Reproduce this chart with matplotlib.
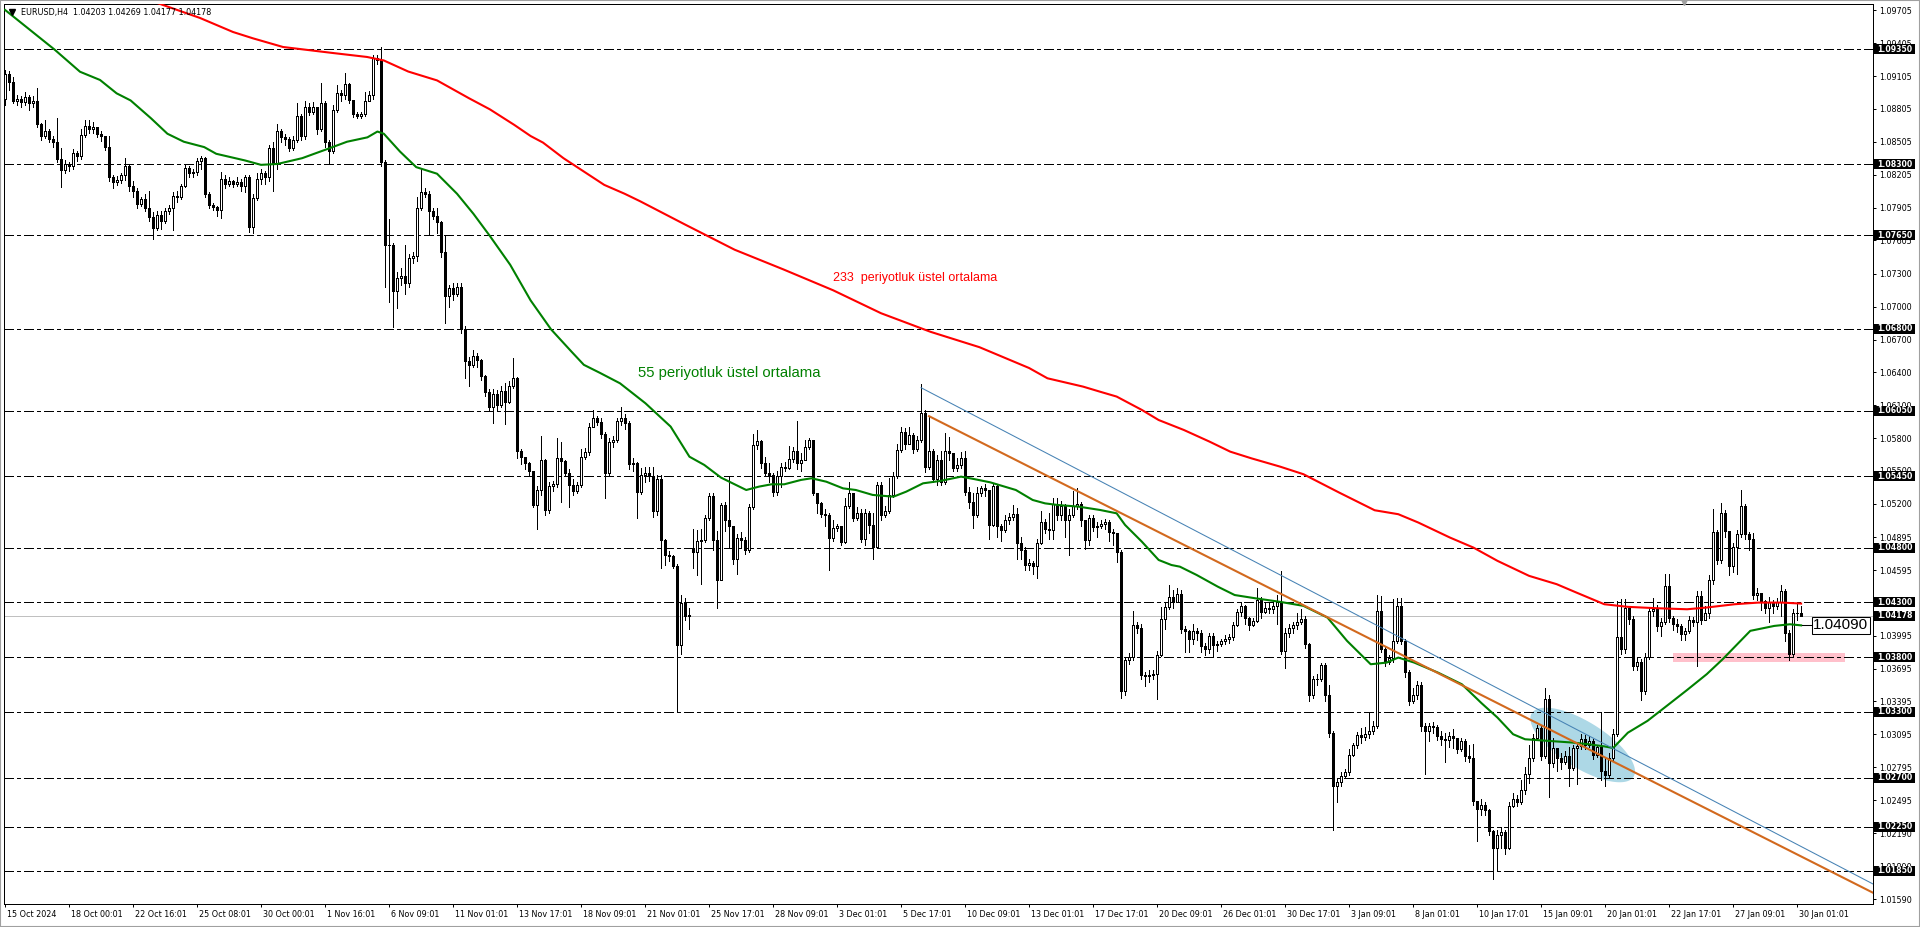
import numpy as np
import matplotlib
matplotlib.use("Agg")
import matplotlib.pyplot as plt
from matplotlib.patches import Rectangle
from matplotlib.transforms import blended_transform_factory, ScaledTranslation

# EURUSD H4, 15 Oct 2024 08:00 .. 30 Jan 2025 04:00 (450 bars)
# all prices below are in pips above 1.0000 (912 -> 1.0912)
first_open = 890
gap_opens = {172: 480}   # weekend gap (25 Nov)

closes = [
    912, 905, 888, 890, 887, 891, 886, 888, 867, 856,
    860, 853, 850, 835, 825, 830, 828, 840, 838, 857,
    865, 862, 864, 858, 856, 846, 818, 814, 816, 820,
    828, 810, 806, 794, 798, 790, 782, 772, 784, 778,
    787, 790, 801, 800, 810, 827, 822, 823, 833, 836,
    803, 793, 791, 788, 817, 812, 815, 812, 814, 810,
    818, 773, 799, 817, 822, 818, 845, 830, 860, 855,
    853, 845, 852, 874, 856, 882, 878, 882, 862, 886,
    850, 842, 880, 895, 893, 903, 889, 876, 874, 876,
    888, 893, 927, 925, 832, 756, 756, 714, 726, 728,
    722, 744, 746, 790, 805, 803, 787, 783, 777, 750,
    710, 717, 712, 718, 680, 650, 647, 655, 651, 637,
    622, 608, 620, 610, 623, 613, 628, 635, 568, 563,
    557, 550, 519, 533, 560, 514, 536, 538, 562, 559,
    548, 537, 532, 537, 563, 567, 590, 598, 595, 584,
    548, 576, 578, 596, 598, 594, 556, 557, 531, 546,
    548, 545, 513, 543, 487, 473, 472, 463, 391, 429,
    418, 418, 476, 486, 487, 507, 527, 487, 450, 519,
    505, 500, 470, 489, 487, 478, 517, 574, 577, 557,
    548, 546, 531, 545, 554, 553, 561, 568, 557, 560,
    572, 578, 530, 521, 511, 510, 489, 498, 500, 485,
    518, 530, 507, 512, 488, 512, 501, 481, 537, 510,
    513, 528, 545, 569, 586, 575, 583, 570, 578, 603,
    554, 568, 543, 560, 540, 568, 566, 553, 555, 562,
    531, 522, 510, 530, 534, 533, 501, 536, 500, 496,
    505, 508, 511, 484, 478, 464, 466, 463, 484, 503,
    497, 496, 520, 510, 518, 505, 510, 518, 520, 505,
    487, 507, 499, 500, 502, 503, 494, 493, 476, 349,
    377, 380, 409, 407, 364, 363, 364, 365, 382, 415,
    426, 435, 430, 438, 406, 404, 397, 404, 402, 390,
    387, 399, 391, 392, 395, 397, 398, 409, 421, 427,
    416, 409, 413, 432, 421, 425, 424, 427, 430, 386,
    402, 407, 409, 412, 415, 392, 345, 360, 360, 373,
    345, 311, 262, 266, 271, 275, 291, 300, 309, 307,
    310, 313, 317, 422, 387, 376, 379, 395, 427, 395,
    366, 340, 345, 355, 317, 313, 317, 316, 308, 305,
    304, 308, 306, 296, 303, 290, 288, 249, 241, 245,
    240, 221, 206, 218, 220, 206, 244, 250, 248, 259,
    273, 288, 306, 315, 290, 342, 283, 297, 288, 284,
    290, 279, 297, 299, 305, 300, 303, 291, 298, 276,
    272, 288, 310, 398, 387, 425, 415, 372, 376, 349,
    380, 422, 424, 408, 412, 445, 416, 410, 408, 401,
    404, 414, 412, 436, 414, 420, 450, 494, 469, 512,
    495, 463, 481, 492, 518, 492, 488, 437, 439, 431,
    425, 430, 427, 430, 440, 402, 383, 420, 420.3, 417.8,
]
highs = [
    916, 915, 910, 893, 892, 896, 893, 892, 900, 868,
    870, 862, 856, 872, 845, 834, 832, 844, 842, 862,
    870, 870, 869, 863, 860, 856, 856, 820, 819, 822,
    836, 830, 815, 808, 800, 803, 806, 786, 787, 787,
    790, 793, 805, 806, 812, 830, 828, 826, 836, 838,
    837, 805, 795, 792, 823, 820, 818, 816, 818, 817,
    820, 820, 803, 822, 826, 824, 848, 850, 867, 862,
    858, 855, 856, 886, 876, 888, 886, 887, 880, 904,
    888, 852, 884, 902, 898, 913, 904, 889, 878, 878,
    896, 897, 930, 930, 937, 834, 780, 758, 732, 735,
    756, 748, 750, 800, 826, 808, 806, 790, 790, 778,
    765, 720, 722, 722, 722, 682, 654, 660, 658, 652,
    638, 625, 625, 624, 628, 630, 632, 653, 636, 570,
    563, 558, 548, 536, 582, 561, 540, 541, 580, 576,
    560, 552, 543, 540, 570, 571, 594, 606, 600, 598,
    586, 580, 582, 598, 608, 602, 596, 562, 558, 553,
    554, 554, 554, 546, 546, 488, 477, 473, 465, 437,
    434, 425, 497, 496, 497, 510, 530, 530, 495, 521,
    522, 545, 500, 492, 494, 490, 520, 584, 587, 578,
    563, 557, 548, 550, 557, 558, 573, 572, 596, 566,
    578, 580, 576, 530, 522, 515, 512, 505, 502, 500,
    525, 540, 530, 517, 515, 515, 513, 512, 540, 540,
    518, 544, 549, 575, 590, 589, 590, 585, 582, 629,
    606, 600, 570, 565, 568, 585, 581, 566, 562, 567,
    568, 535, 530, 535, 536, 538, 533, 538, 537, 502,
    510, 512, 519, 516, 490, 481, 470, 468, 488, 513,
    506, 512, 525, 525, 523, 520, 515, 532, 534, 522,
    505, 510, 510, 503, 505, 506, 505, 497, 493, 478,
    380, 384, 422, 412, 410, 366, 368, 368, 386, 426,
    430, 446, 441, 443, 441, 408, 405, 410, 407, 405,
    393, 402, 402, 395, 397, 400, 401, 412, 424, 430,
    428, 417, 416, 443, 435, 430, 429, 430, 437, 459,
    407, 410, 412, 420, 424, 418, 393, 363, 365, 375,
    375, 355, 313, 270, 275, 278, 296, 302, 312, 315,
    316, 330, 322, 437, 436, 390, 382, 433, 434, 434,
    397, 368, 352, 358, 357, 320, 320, 321, 318, 313,
    311, 312, 314, 305, 306, 305, 300, 301, 249, 250,
    248, 241, 222, 222, 225, 222, 248, 256, 254, 268,
    280, 300, 310, 318, 318, 352, 345, 306, 297, 292,
    294, 298, 300, 302, 310, 309, 308, 305, 300, 330,
    289, 292, 314, 431, 433, 433, 427, 418, 380, 378,
    384, 426, 434, 428, 416, 456, 456, 418, 415, 410,
    407, 418, 417, 440, 440, 427, 455, 515, 496, 521,
    514, 495, 484, 496, 533, 520, 494, 493, 443, 438,
    432, 435, 432, 434, 446, 442, 405, 424, 429, 426.9,
]
lows = [
    884, 898, 886, 884, 882, 884, 880, 882, 864, 852,
    854, 850, 846, 832, 809, 822, 824, 826, 833, 835,
    855, 859, 859, 855, 851, 843, 815, 808, 811, 813,
    816, 806, 800, 790, 792, 787, 778, 762, 770, 771,
    776, 785, 770, 796, 798, 809, 818, 818, 820, 826,
    800, 790, 788, 783, 781, 808, 810, 809, 810, 806,
    805, 768, 767, 797, 812, 812, 815, 806, 826, 850,
    848, 842, 843, 850, 852, 853, 875, 876, 858, 860,
    846, 830, 840, 878, 888, 890, 886, 873, 872, 872,
    874, 888, 890, 922, 828, 718, 704, 681, 699, 720,
    712, 718, 740, 742, 788, 800, 765, 780, 767, 745,
    685, 700, 706, 710, 676, 635, 628, 645, 645, 633,
    618, 605, 594, 606, 608, 593, 612, 626, 562, 556,
    552, 546, 517, 497, 528, 510, 512, 532, 535, 522,
    545, 517, 528, 530, 535, 561, 565, 590, 592, 580,
    525, 546, 572, 576, 592, 588, 552, 550, 507, 529,
    540, 541, 508, 510, 461, 464, 468, 461, 330, 383,
    414, 406, 461, 455, 447, 485, 505, 478, 425, 452,
    495, 480, 465, 456, 480, 474, 476, 515, 570, 553,
    545, 540, 527, 528, 535, 550, 552, 558, 552, 550,
    560, 570, 528, 512, 508, 500, 460, 486, 495, 482,
    484, 516, 504, 505, 485, 482, 493, 470, 480, 505,
    508, 512, 526, 544, 567, 570, 575, 566, 568, 576,
    549, 552, 540, 537, 537, 538, 560, 550, 550, 553,
    528, 516, 498, 508, 527, 527, 488, 500, 490, 486,
    494, 502, 505, 470, 470, 460, 460, 456, 452, 483,
    493, 488, 488, 505, 505, 490, 473, 508, 515, 500,
    479, 482, 495, 490, 498, 497, 486, 482, 467, 343,
    345, 374, 377, 402, 360, 354, 357, 360, 342, 381,
    406, 424, 425, 430, 402, 385, 385, 392, 396, 385,
    382, 384, 380, 386, 390, 392, 393, 396, 408, 418,
    410, 405, 408, 412, 416, 420, 420, 420, 410, 383,
    370, 398, 402, 406, 410, 388, 340, 343, 355, 358,
    340, 307, 222, 248, 262, 270, 272, 290, 297, 302,
    304, 306, 310, 315, 385, 372, 374, 376, 393, 392,
    362, 336, 338, 342, 313, 273, 303, 311, 304, 300,
    284, 298, 297, 292, 294, 285, 284, 245, 212, 236,
    236, 218, 177, 185, 206, 200, 205, 243, 244, 246,
    255, 265, 285, 304, 286, 288, 252, 280, 276, 278,
    282, 262, 277, 264, 296, 296, 298, 287, 289, 268,
    262, 270, 285, 308, 383, 384, 410, 368, 368, 341,
    346, 378, 418, 404, 399, 410, 412, 405, 403, 396,
    396, 402, 408, 372, 410, 414, 416, 447, 465, 466,
    490, 455, 458, 456, 490, 488, 478, 433, 432, 423,
    420, 412, 420, 424, 418, 395, 377, 380, 414, 417.7,
]

# moving averages (bar index, pips)
ema233_bars = [35, 38.3, 48.75, 57, 62, 69.5, 82, 90.5, 94.7, 100.8,
               108, 116, 121.2, 127.3, 131.4, 134.5, 139.6, 144.7, 149.8, 154.9,
               158.8, 170, 182.4, 194.6, 207, 219, 231.4, 243.6, 256, 260.6,
               269.5, 273.7, 277.9, 284.2, 288.4, 294.7, 301.1, 306.3, 311.6, 318.7,
               324.6, 333.5, 342.4, 348.3, 353.3, 361.2, 367.1, 373.1, 381, 387.9,
               392.8, 399.8, 405.7, 412.6, 420.5, 425.4, 432.4, 438.3, 444.2, 449]
ema233_vals = [981, 977, 963.6, 950.8, 945, 937.1, 931.6, 928, 924.8, 914.7,
               906.6, 890.3, 880.2, 866, 855.8, 849.8, 835.6, 823.4, 811.2, 803.1,
               796.2, 775, 752, 734, 715, 694, 677, 663, 644, 634.6,
               627, 622.4, 617.9, 605.7, 596.5, 587.4, 576.8, 567.6, 561.5, 554,
               547, 530.3, 514.1, 510.5, 502.9, 489.2, 480, 467.9, 454.2, 446.6,
               439, 428.3, 425.9, 424.7, 423.7, 425.3, 428.3, 429.8, 429.8, 428.9]
ema55_bars = [0, 12.5, 18.75, 23.75, 27.9, 31.4, 36.5, 40.6, 44.7, 49.8,
              52.8, 60, 64, 68.1, 74.3, 77.3, 80.4, 85.5, 90.6, 93.1,
              94.7, 98.75, 102.8, 108, 113, 117.1, 121.2, 126.3, 131.4, 136.5,
              141.6, 144.7, 148.7, 153.75, 160.1, 166.4, 171.1, 174.8, 179, 185.3,
              188.5, 191.6, 194.8, 199, 201.6, 205.3, 209.5, 212.7, 216.9, 222.1,
              225.3, 229.5, 233.7, 239, 242.1, 246.3, 252.7, 256.9, 260, 263.2,
              268.4, 273.7, 277.9, 280, 284.2, 288.4, 291.6, 293.7, 297.9, 303.2,
              307.4, 312.6, 318.7, 324.6, 330.6, 335.5, 341.4, 345.4, 348.3, 352.3,
              358.2, 364.2, 369.1, 373.1, 377, 380, 385.9, 391.8, 395.8, 399.8,
              402, 405.7, 410.6, 415.6, 420.5, 425.4, 429.4, 436.3, 442.3, 446.2,
              449]
ema55_vals = [971, 934.4, 914.5, 907, 894.8, 888.3, 872, 857.9, 850.6, 845.7,
              839.6, 833.5, 829.5, 830.3, 835.6, 839.6, 843.7, 850.6, 854.6, 859.9,
              857.9, 841.6, 827.4, 821.4, 803.1, 784.8, 764.6, 738.2, 705.7, 679.3,
              659, 646.9, 639.6, 630, 611.8, 590.5, 563, 555.5, 543.9, 532.6,
              535.7, 537.8, 537.8, 541.8, 543.3, 540.2, 534.1, 532.6, 528.1, 526.5,
              531.1, 538.7, 540.8, 544.8, 542.7, 539.6, 532.6, 523.5, 520.4, 518.9,
              517.4, 514.4, 511.3, 500.7, 485.4, 468.7, 464.1, 462.6, 455, 444.3,
              436.7, 433.7, 430.5, 426.8, 416.1, 394.8, 373.5, 375, 379.6, 375,
              365.9, 355.2, 338, 324.8, 309.6, 305, 303.5, 302, 300.5, 298.5,
              297, 311, 321.8, 336, 350, 364.4, 378.1, 404, 408.5, 410,
              409]

# trend lines: start point and a point at the right edge (bar, pips)
blue_line = [(229, 626), (466.9, 173)]
orange_line = [(231, 600), (466.9, 165)]

# horizontal levels
levels = [1.0935, 1.0830, 1.0765, 1.0680, 1.0605, 1.0545, 1.0480,
          1.0430, 1.0380, 1.0330, 1.0270, 1.0225, 1.0185]
last_price = 1.04178
ema55_last = 1.04090

# support zone and highlight
zone_bars = (417, 460)
zone_prices = (1.03753, 1.03842)
ellipse_center = (394.4, 1.02998)
ellipse_axes_px = (60, 23)
ellipse_angle = 32

price_ticks = [1.09705, 1.09405, 1.09105, 1.08805, 1.08505, 1.08205, 1.07905,
               1.07605, 1.07300, 1.07000, 1.06700, 1.06400, 1.06100, 1.05800,
               1.05500, 1.05200, 1.04895, 1.04595, 1.04295, 1.03995, 1.03695,
               1.03395, 1.03095, 1.02795, 1.02495, 1.02190, 1.01890, 1.01590]
date_labels = ["15 Oct 2024", "18 Oct 00:01", "22 Oct 16:01", "25 Oct 08:01",
               "30 Oct 00:01", "1 Nov 16:01", "6 Nov 09:01", "11 Nov 01:01",
               "13 Nov 17:01", "18 Nov 09:01", "21 Nov 01:01", "25 Nov 17:01",
               "28 Nov 09:01", "3 Dec 01:01", "5 Dec 17:01", "10 Dec 09:01",
               "13 Dec 01:01", "17 Dec 17:01", "20 Dec 09:01", "26 Dec 01:01",
               "30 Dec 17:01", "3 Jan 09:01", "8 Jan 01:01", "10 Jan 17:01",
               "15 Jan 09:01", "20 Jan 01:01", "22 Jan 17:01", "27 Jan 09:01",
               "30 Jan 01:01"]
bars_per_label = 16


def to_price(p):
    return 1.0 + np.asarray(p, dtype=float) / 10000.0


plt.rcParams["font.family"] = ["DejaVu Sans"]
plt.rcParams["lines.scale_dashes"] = False

W, H = 1920, 927
left_px, right_px, top_px, bot_px = 3.7, 1872.7, 4.0, 904.0
fig = plt.figure(figsize=(W / 100, H / 100), dpi=100)
ax = fig.add_axes([left_px / W, 1 - bot_px / H,
                   (right_px - left_px) / W, (bot_px - top_px) / H])
xmin, xmax = -0.325, 466.9
ymin, ymax = 1.015458, 1.097636
ax.set_xlim(xmin, xmax)
ax.set_ylim(ymin, ymax)
px_per_bar = (right_px - left_px) / (xmax - xmin)
px_per_price = (bot_px - top_px) / (ymax - ymin)
PX = 0.72  # one pixel in points

c = to_price(closes)
h = to_price(highs)
l = to_price(lows)
o = np.empty_like(c)
o[0] = to_price(first_open)
o[1:] = c[:-1]
for b, v in gap_opens.items():
    o[b] = to_price(v)
h = np.maximum(h, np.maximum(o, c))
l = np.minimum(l, np.minimum(o, c))
x = np.arange(len(c))

# background objects
t = np.linspace(0, 2 * np.pi, 120)
ang = np.deg2rad(ellipse_angle)
ea, eb = ellipse_axes_px
ex = ea * np.cos(t) * np.cos(ang) - eb * np.sin(t) * np.sin(ang)
ey = ea * np.cos(t) * np.sin(ang) + eb * np.sin(t) * np.cos(ang)
ax.fill(ellipse_center[0] + ex / px_per_bar, ellipse_center[1] - ey / px_per_price,
        color="#add8e6", lw=0, zorder=0.5)
ax.add_patch(Rectangle((zone_bars[0], zone_prices[0]), zone_bars[1] - zone_bars[0],
                       zone_prices[1] - zone_prices[0], facecolor="#ffc0cb",
                       lw=0, zorder=0.6))

for lvl in levels:
    ax.axhline(lvl, color="black", lw=PX, dashes=(6.5, 2.2, 2.2, 2.2),
               antialiased=False, zorder=1)
ax.axhline(last_price, color="#c0c0c0", lw=PX, antialiased=False, zorder=1.1)

# candles: wick, then body (white body with black outline for up bars)
ax.vlines(x, l, h, color="black", lw=PX, antialiased=False, zorder=2)
bottom = np.minimum(o, c)
height = np.maximum(np.abs(c - o), 0.00002)
up = c >= o
ax.bar(x[up], height[up], bottom=bottom[up], width=0.5, facecolor="white",
       edgecolor="black", linewidth=PX, antialiased=False, zorder=2.2)
ax.bar(x[~up], height[~up], bottom=bottom[~up], width=0.5, facecolor="black",
       edgecolor="black", linewidth=PX, antialiased=False, zorder=2.2)

# moving averages
ax.plot(ema233_bars, to_price(ema233_vals), color="#ff0000", lw=1.5, zorder=3)
ax.plot(ema55_bars, to_price(ema55_vals), color="#008000", lw=1.5, zorder=3)

# trend lines
ax.plot([blue_line[0][0], blue_line[1][0]], to_price([blue_line[0][1], blue_line[1][1]]),
        color="#4682b4", lw=0.75, zorder=3.5)
ax.plot([orange_line[0][0], orange_line[1][0]],
        to_price([orange_line[0][1], orange_line[1][1]]),
        color="#d2691e", lw=1.5, zorder=3.5)

# annotations
ax.text(207, 1.07262, "233  periyotluk üstel ortalama", color="#ff0000",
        fontsize=9, family="Liberation Sans", va="center", ha="left", zorder=4)
ax.text(158.3, 1.0639, "55 periyotluk üstel ortalama", color="#008000",
        fontsize=10.7, family="Liberation Sans", va="center", ha="left", zorder=4)
ax.plot([449.3, 451.8], [ema55_last, ema55_last], color="black", lw=0.75, zorder=4)
ax.text(452.0, ema55_last, f"{ema55_last:.5f}", fontsize=11, family="Liberation Sans",
        va="center", ha="left", zorder=4,
        bbox=dict(boxstyle="square,pad=0.1", fc="white", ec="black", lw=0.75))

ax.text(0.0091, 0.9903, "EURUSD,H4  1.04203 1.04269 1.04177 1.04178",
        transform=ax.transAxes, fontsize=5.8, va="center", ha="left", zorder=5)
ax.plot([0.0044], [0.9906], marker="v", markersize=4, color="black",
        transform=ax.transAxes, zorder=5)
ax.plot([419.75], [1.0022], marker="v", markersize=5, color="#a0a0a0",
        transform=blended_transform_factory(ax.transData, ax.transAxes),
        clip_on=False, zorder=5)

# axes styling
for s in ax.spines.values():
    s.set_linewidth(PX)
ax.set_xticks(x[::bars_per_label][:len(date_labels)])
ax.set_xticklabels(date_labels)
ax.tick_params(axis="x", direction="out", length=2.5, width=PX, pad=1.5,
               labelsize=5.8)
shift = ScaledTranslation(2 / 100, 0, fig.dpi_scale_trans)
for lab in ax.get_xticklabels():
    lab.set_ha("left")
    lab.set_transform(lab.get_transform() + shift)

ax.yaxis.tick_right()
ax.set_yticks(price_ticks)
ax.set_yticklabels([f"{v:.5f}" for v in price_ticks])
ax.tick_params(axis="y", direction="out", length=2.5, width=PX, pad=2,
               labelsize=5.8)

# black price boxes on the scale
bt = blended_transform_factory(ax.transAxes, ax.transData)
box_w = 42 / (right_px - left_px)
box_h = 10 / px_per_price
for lvl in levels + [last_price]:
    ax.add_patch(Rectangle((1.0003, lvl - box_h / 2), box_w, box_h, transform=bt,
                           facecolor="black", edgecolor="black", lw=0,
                           clip_on=False, zorder=9))
    ax.text(1.0 + 4 / (right_px - left_px), lvl, f"{lvl:.5f}", transform=bt,
            color="white", fontsize=5.6, fontweight="bold", va="center", ha="left",
            clip_on=False, zorder=10)

# window frame
fig.patches.append(Rectangle((0, 0), 1, 1, transform=fig.transFigure, fill=False,
                             edgecolor="#a0a0a0", lw=1.5, zorder=0))

fig.savefig("out.png", dpi=100, facecolor="white")
